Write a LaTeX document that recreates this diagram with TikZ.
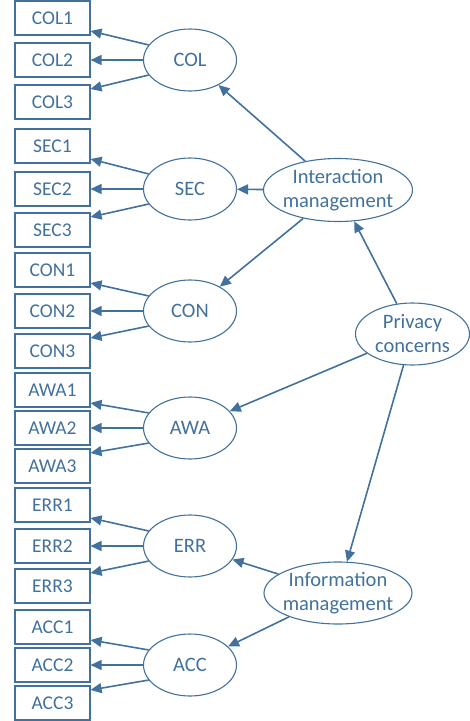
\documentclass[tikz,border=0pt]{standalone}
\usepackage{fontspec}
\setmainfont{Carlito}
\usetikzlibrary{arrows.meta,shapes.geometric}
\definecolor{steel}{RGB}{65,113,156}
\tikzset{
	item/.style={draw=steel,line width=1.1pt,text=steel,minimum width=75pt,minimum height=34pt,inner sep=0pt,font=\fontsize{19.5}{24}\selectfont},
	latent/.style={ellipse,draw=steel,line width=1.1pt,text=steel,inner xsep=-22pt,inner ysep=-10pt,align=center,font=\fontsize{20.5}{24}\selectfont},
	arr/.style={draw=steel,line width=1.6pt,-{Triangle[length=11pt,width=10pt]}}
}
\begin{document}
\begin{tikzpicture}[x=1pt,y=-1pt]
				\useasboundingbox (0,0) rectangle (470,721);
				\foreach \lat/\ya/\yb/\yc in {COL/18/60/102,SEC/146/189/230,CON/270/311/351,AWA/390/428/466,ERR/505/546/586,ACC/627/665/703} {
					\node[item] (\lat1) at (52.5,\ya) {\lat1};
					\node[item] (\lat2) at (52.5,\yb) {\lat2};
					\node[item] (\lat3) at (52.5,\yc) {\lat3};
					\node[latent,minimum width=93pt,minimum height=62pt] (\lat) at (190,\yb) {\lat};
					\draw[arr] (\lat.160) -- ([yshift=-13pt]\lat1.east);
					\draw[arr] (\lat.west) -- (\lat2.east);
					\draw[arr] (\lat.200) -- ([yshift=13pt]\lat3.east);
				}
				\node[latent,minimum width=149pt,minimum height=63pt] (inter) at (338,190) {Interaction\\management};
				\node[latent,minimum width=114pt,minimum height=62pt] (privacy) at (412.5,334) {Privacy\\concerns};
				\node[latent,minimum width=148pt,minimum height=62pt] (info) at (338,593) {Information\\management};
				\draw[arr] (privacy) -- (inter);
				\draw[arr] (privacy) -- (AWA);
				\draw[arr] (privacy) -- (info);
				\draw[arr] (inter) -- (COL);
				\draw[arr] (inter) -- (SEC);
				\draw[arr] (inter) -- (CON);
				\draw[arr] (info) -- (ERR);
				\draw[arr] (info) -- (ACC);
			\end{tikzpicture}
\end{document}
